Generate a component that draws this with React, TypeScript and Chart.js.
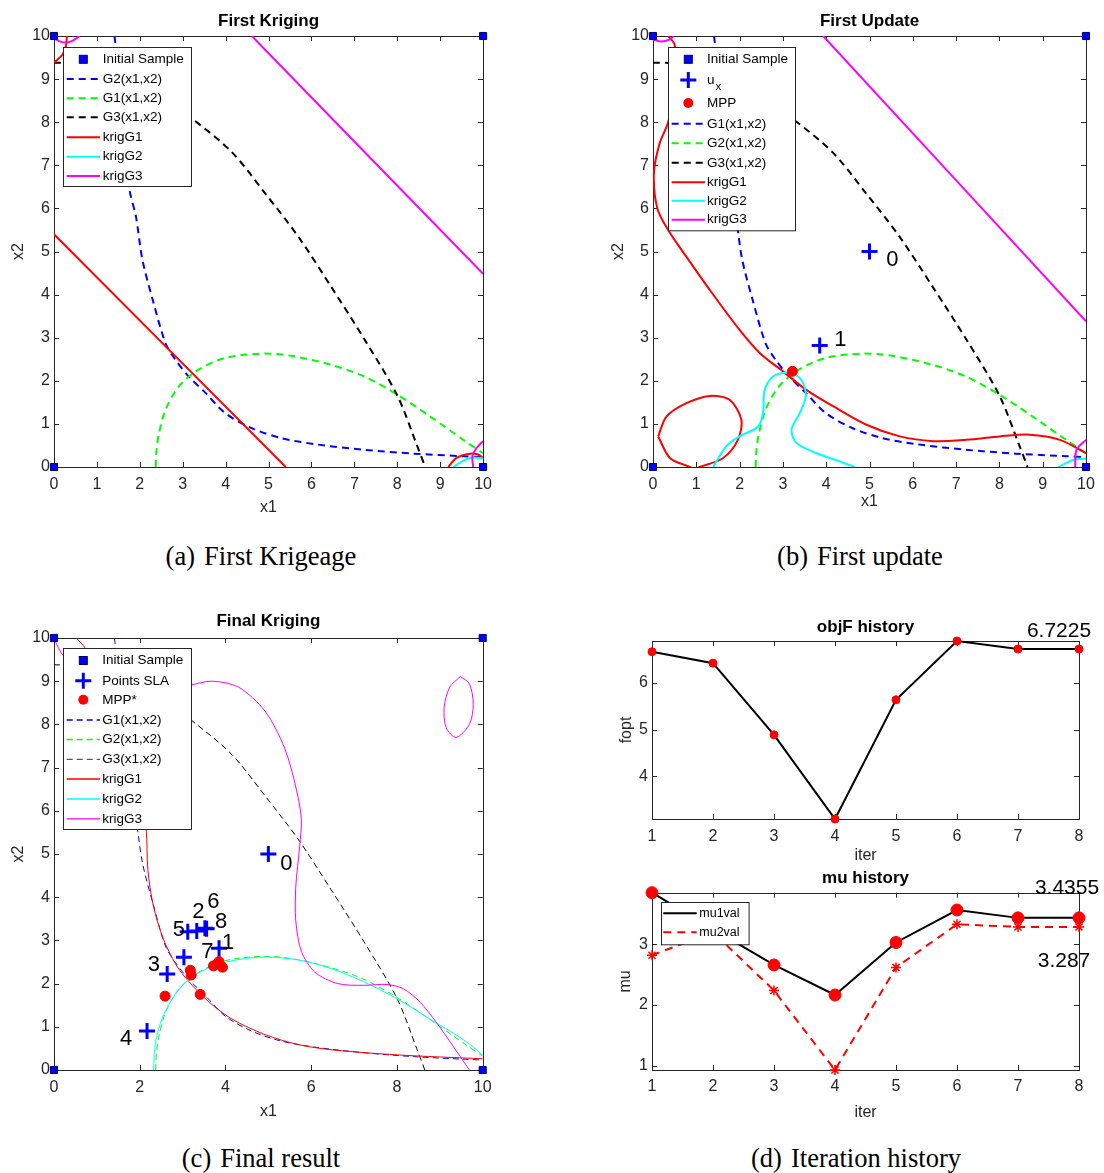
import React, { useEffect, useRef } from 'react';
import { Chart, registerables } from 'chart.js';

Chart.register(...registerables);

const FONT = '"Liberation Sans", Arial, Helvetica, sans-serif';
const SERIF = '"Liberation Serif", "Times New Roman", serif';
const AXIS = '#262626';
Chart.defaults.font.family = FONT;

const BLUE = '#0000ff';
const GREEN = '#00ff00';
const RED = '#ff0000';
const CYAN = '#00ffff';
const MAG = '#ff00ff';
const BLACK = '#000000';

// ================= DATA =================
// initial sample (corners of the design space)
const sampleX = [0, 0, 10, 10];
const sampleY = [0, 10, 0, 10];

// true limit states (same in panels a, b, c)
const limBlueX = [1.41, 1.5, 1.62, 1.76, 1.91, 2.06, 2.3, 2.6, 2.83, 3.14, 3.53, 3.99, 4.61, 5.3, 6.15, 7.23, 8.38, 9.54, 10];
const limBlueY = [10, 9.2, 7.8, 6.43, 5.81, 4.81, 3.88, 2.87, 2.49, 2.1, 1.72, 1.25, 0.9, 0.67, 0.52, 0.4, 0.31, 0.25, 0.23];
const limGreenX = [2.37, 2.39, 2.45, 2.6, 2.91, 3.37, 3.99, 4.84, 5.53, 6.46, 7.23, 8.0, 8.77, 9.54, 10];
const limGreenY = [0, 0.4, 0.79, 1.33, 1.87, 2.26, 2.53, 2.63, 2.58, 2.37, 2.1, 1.68, 1.17, 0.63, 0.32];
const limBlackX = [0, 0.5, 1.5, 2.5, 3.2, 4.15, 4.92, 5.69, 6.46, 7.23, 8.0, 8.46, 8.65];
const limBlackY = [9.38, 9.36, 9.1, 8.6, 8.1, 7.3, 6.35, 5.35, 4.18, 2.97, 1.66, 0.5, 0];

// panel (a): first kriging
const aRedLineX = [0, 5.4];
const aRedLineY = [5.4, 0];
const aRedTopX = [0, 0.2, 0.28, 0.3];
const aRedTopY = [9.38, 9.57, 9.78, 10];
const aRedCornerX = [9.19, 9.38, 9.69, 9.88, 10];
const aRedCornerY = [0, 0.21, 0.31, 0.29, 0.21];
const aCyanX = [9.31, 9.54, 9.77, 10];
const aCyanY = [0, 0.15, 0.22, 0.2];
const aMagLineX = [4.61, 10];
const aMagLineY = [10, 4.48];
const aMagTopX = [0, 0.15, 0.3, 0.45, 0.6];
const aMagTopY = [9.95, 9.87, 9.85, 9.9, 10];
const aMagCornerX = [10, 9.85, 9.75, 9.77];
const aMagCornerY = [0.6, 0.44, 0.25, 0];

// panel (b): first update
const bRedX = [0.35, 0.5, 0.55, 0.35, 0.15, 0.02, 0.1, 0.35, 0.77, 1.31, 2.0, 2.47, 3.0, 3.54, 4.16, 4.93, 5.7, 6.47, 7.24, 8.01, 8.7, 9.4, 10];
const bRedY = [10, 9.8, 9.0, 8.0, 7.5, 6.8, 6.0, 5.5, 4.88, 4.11, 3.18, 2.64, 2.22, 1.79, 1.41, 0.98, 0.71, 0.6, 0.63, 0.71, 0.75, 0.63, 0.32];
const bRedLoopX = [0.12, 0.31, 0.77, 1.31, 1.77, 2.04, 1.96, 1.62, 1.08, 0.95, 0.85, 0.39, 0.12];
const bRedLoopY = [0.71, 1.17, 1.48, 1.65, 1.56, 1.1, 0.63, 0.21, 0.0, -0.05, 0.0, 0.21, 0.71];
const bCyanX = [1.39, 1.69, 2.0, 2.43, 2.54, 2.58, 2.77, 3.16, 3.43, 3.53, 3.39, 3.2, 3.31, 3.78, 4.31, 4.66];
const bCyanY = [0, 0.48, 0.71, 0.94, 1.25, 1.79, 2.1, 2.19, 2.02, 1.64, 1.25, 0.87, 0.56, 0.32, 0.13, 0];
const bCyanCornerX = [9.36, 9.71, 10];
const bCyanCornerY = [0, 0.17, 0.19];
const bMagLineX = [3.93, 10];
const bMagLineY = [10, 3.38];
const bMagTopX = [0, 0.19, 0.39, 0.48];
const bMagTopY = [9.92, 9.87, 9.92, 10];
const bMagCornerX = [10, 9.78, 9.75];
const bMagCornerY = [0.63, 0.4, 0];
const uxX = [5.0, 3.85];
const uxY = [5.0, 2.82];
const uxLabels = ['0', '1'];
const uxLabelX = [5.53, 4.33];
const uxLabelY = [4.81, 2.95];
const mppBX = [3.22];
const mppBY = [2.22];

// panel (c): final kriging
const cRedX = [0.52, 0.73, 1.2, 1.7, 2.0, 2.15, 2.19, 2.31, 2.54, 2.85, 3.15, 3.62, 4.15, 4.92, 5.69, 6.46, 8.0, 10];
const cRedY = [10, 9.76, 8.8, 7.5, 6.5, 5.57, 4.63, 3.84, 3.06, 2.43, 2.04, 1.57, 1.18, 0.82, 0.59, 0.47, 0.35, 0.26];
const cCyanX = [2.32, 2.38, 2.62, 3.08, 3.77, 4.77, 5.69, 6.46, 7.23, 8.0, 8.77, 9.54, 10];
const cCyanY = [0, 0.71, 1.41, 2.04, 2.43, 2.61, 2.55, 2.35, 2.04, 1.65, 1.18, 0.71, 0.35];
const cMagX = [0, 0.23, 1.0, 2.0, 3.0, 3.15, 3.69, 4.31, 4.92, 5.38, 5.65, 5.77, 5.73, 5.64, 5.64, 5.77, 6.08, 6.62, 7.23, 7.77, 8.15, 8.54, 8.92, 9.31, 9.69];
const cMagY = [9.98, 9.57, 8.9, 8.8, 8.85, 8.9, 9.0, 8.86, 8.31, 7.45, 6.51, 5.8, 5.18, 4.24, 3.45, 2.75, 2.27, 2.0, 1.96, 1.98, 1.88, 1.57, 1.1, 0.55, 0];
const cMagLoopX = [9.48, 9.69, 9.78, 9.69, 9.38, 9.15, 9.1, 9.23, 9.48];
const cMagLoopY = [9.11, 8.94, 8.47, 8.0, 7.7, 7.92, 8.39, 8.86, 9.11];
const slaX = [5.0, 3.85, 3.33, 2.64, 2.17, 3.12, 3.52, 3.03, 3.56];
const slaY = [5.0, 2.82, 3.22, 2.22, 0.9, 3.2, 3.28, 2.61, 3.27];
const slaLabels = ['0', '1', '2', '3', '4', '5', '6', '7', '8'];
const slaLabelX = [5.42, 4.06, 3.37, 2.33, 1.68, 2.91, 3.72, 3.58, 3.9];
const slaLabelY = [4.78, 2.93, 3.66, 2.43, 0.72, 3.24, 3.9, 2.74, 3.43];
const mppCX = [2.59, 3.41, 3.18, 3.2, 3.72, 3.85, 3.93, 3.8];
const mppCY = [1.71, 1.75, 2.31, 2.2, 2.41, 2.51, 2.38, 2.45];

// panel (d): iteration history
const iters = [1, 2, 3, 4, 5, 6, 7, 8];
const objF = [6.664, 6.42, 4.886, 3.085, 5.636, 6.894, 6.7225, 6.7225];
const mu1val = [3.85, 3.25, 2.66, 2.165, 3.03, 3.565, 3.4355, 3.4355];
const mu2val = [2.82, 3.2, 2.24, 0.93, 2.62, 3.33, 3.287, 3.287];

// ================= HELPERS =================
type Pt = { x: number; y: number };
const xy = (xs: number[], ys: number[]): Pt[] => xs.map((x, i) => ({ x, y: ys[i] }));

function curve(xs: number[], ys: number[], color: string, width: number, dash: number[] = [], tension = 0.3) {
  return {
    data: xy(xs, ys), showLine: true, borderColor: color, backgroundColor: color,
    borderWidth: width, borderDash: dash, pointRadius: 0, pointHoverRadius: 0, pointHitRadius: 0,
    tension, fill: false,
  };
}
function marks(xs: number[], ys: number[], style: string, radius: number, border: string, fill: string, bw: number) {
  return {
    data: xy(xs, ys), showLine: false, pointStyle: style, pointRadius: radius, pointHoverRadius: radius,
    pointBorderColor: border, pointBackgroundColor: fill, pointBorderWidth: bw,
    borderColor: border, backgroundColor: fill, clip: false,
  };
}

function drawMarker(ctx: CanvasRenderingContext2D, kind: string, x: number, y: number, s: number, color: string) {
  ctx.save();
  ctx.setLineDash([]);
  if (kind === 'rect') {
    ctx.fillStyle = color;
    ctx.fillRect(x - s / 2, y - s / 2, s, s);
    ctx.strokeStyle = '#000060';
    ctx.lineWidth = 1;
    ctx.strokeRect(x - s / 2, y - s / 2, s, s);
  } else if (kind === 'cross') {
    ctx.strokeStyle = color;
    ctx.lineWidth = 3;
    ctx.beginPath();
    ctx.moveTo(x - s / 2, y); ctx.lineTo(x + s / 2, y);
    ctx.moveTo(x, y - s / 2); ctx.lineTo(x, y + s / 2);
    ctx.stroke();
  } else {
    ctx.fillStyle = color;
    ctx.beginPath();
    ctx.arc(x, y, s / 2, 0, Math.PI * 2);
    ctx.fill();
  }
  ctx.restore();
}

function axesBox(len = 5) {
  return {
    id: 'axesBox',
    beforeDatasetsDraw(chart: any) {
      const { ctx, chartArea: a, scales } = chart;
      const sx = scales.x, sy = scales.y;
      ctx.save();
      ctx.strokeStyle = AXIS;
      ctx.lineWidth = 1;
      ctx.setLineDash([]);
      ctx.beginPath();
      sx.ticks.forEach((t: any) => {
        const p = Math.round(sx.getPixelForValue(t.value)) + 0.5;
        ctx.moveTo(p, a.bottom); ctx.lineTo(p, a.bottom - len);
        ctx.moveTo(p, a.top); ctx.lineTo(p, a.top + len);
      });
      sy.ticks.forEach((t: any) => {
        const p = Math.round(sy.getPixelForValue(t.value)) + 0.5;
        ctx.moveTo(a.left, p); ctx.lineTo(a.left + len, p);
        ctx.moveTo(a.right, p); ctx.lineTo(a.right - len, p);
      });
      ctx.stroke();
      ctx.strokeRect(Math.round(a.left) + 0.5, Math.round(a.top) + 0.5, Math.round(a.right - a.left), Math.round(a.bottom - a.top));
      ctx.restore();
    },
  };
}

type LegItem = { text: string; sub?: string; color: string; dash?: number[]; lw?: number; marker?: string; ms?: number };
type LegCfg = { x: number; y: number; w: number; h: number; rows: number[]; lx0: number; lx1: number; mx: number; tx: number; fs: number; items: LegItem[] };

function boxLegend(o: LegCfg) {
  return {
    id: 'boxLegend',
    afterDraw(chart: any) {
      const { ctx, chartArea: a } = chart;
      const bx = Math.round(a.left + o.x), by = Math.round(a.top + o.y);
      ctx.save();
      ctx.setLineDash([]);
      ctx.fillStyle = '#ffffff';
      ctx.fillRect(bx, by, o.w, o.h);
      ctx.strokeStyle = AXIS;
      ctx.lineWidth = 1;
      ctx.strokeRect(bx + 0.5, by + 0.5, o.w, o.h);
      o.items.forEach((it, i) => {
        const yy = a.top + o.rows[i];
        if (it.marker) {
          drawMarker(ctx, it.marker, a.left + o.mx, yy, it.ms || 8, it.color);
        } else {
          ctx.save();
          ctx.strokeStyle = it.color;
          ctx.lineWidth = it.lw || 2;
          ctx.setLineDash(it.dash || []);
          ctx.beginPath();
          ctx.moveTo(a.left + o.lx0, yy);
          ctx.lineTo(a.left + o.lx1, yy);
          ctx.stroke();
          ctx.restore();
        }
        ctx.fillStyle = '#000';
        ctx.font = `${o.fs}px ${FONT}`;
        ctx.textAlign = 'left';
        ctx.textBaseline = 'middle';
        ctx.fillText(it.text, a.left + o.tx, yy);
        if (it.sub) {
          const w = ctx.measureText(it.text).width;
          ctx.font = `${o.fs - 2}px ${FONT}`;
          ctx.fillText(it.sub, a.left + o.tx + w + 1, yy + 7);
        }
      });
      ctx.restore();
    },
  };
}

type TextItem = { x: number; y: number; text: string; dx?: number; dy?: number };
function textLayer(items: TextItem[], size: number) {
  return {
    id: 'textLayer',
    afterDatasetsDraw(chart: any) {
      const { ctx, scales } = chart;
      ctx.save();
      ctx.font = `${size}px ${FONT}`;
      ctx.fillStyle = '#000';
      ctx.textAlign = 'center';
      ctx.textBaseline = 'middle';
      items.forEach((it) => {
        ctx.fillText(it.text, scales.x.getPixelForValue(it.x) + (it.dx || 0), scales.y.getPixelForValue(it.y) + (it.dy || 0));
      });
      ctx.restore();
    },
  };
}

interface AxCfg {
  xmin: number; xmax: number; xstep: number; ymin: number; ymax: number; ystep: number;
  yW: number; xH: number; xPad: number; xTitle: string; xTitlePad: number; yTitle: string; yTitlePad: number;
}
function axes(c: AxCfg) {
  const tickFont = { family: FONT, size: 16 };
  return {
    x: {
      type: 'linear', min: c.xmin, max: c.xmax,
      afterFit: (s: any) => { s.height = c.xH; },
      ticks: { stepSize: c.xstep, autoSkip: false, maxRotation: 0, minRotation: 0, includeBounds: false, padding: c.xPad, color: AXIS, font: tickFont },
      grid: { display: false, drawTicks: false }, border: { display: false },
      title: { display: true, text: c.xTitle, color: AXIS, font: tickFont, padding: { top: 0, bottom: c.xTitlePad } },
    },
    y: {
      type: 'linear', min: c.ymin, max: c.ymax,
      afterFit: (s: any) => { s.width = c.yW; },
      ticks: { stepSize: c.ystep, autoSkip: false, includeBounds: false, padding: 4, color: AXIS, font: tickFont },
      grid: { display: false, drawTicks: false }, border: { display: false },
      title: { display: true, text: c.yTitle, color: AXIS, font: tickFont, padding: { top: c.yTitlePad, bottom: 0 } },
    },
  };
}

function titleCfg(text: string, top: number, bottom: number) {
  return { display: true, text, color: '#000', font: { family: FONT, size: 17, weight: 'bold' }, padding: { top, bottom }, fullSize: false };
}

function config(datasets: any[], scales: any, title: any, padRight: number, plugins: any[]) {
  return {
    type: 'scatter',
    data: { datasets },
    options: {
      responsive: false, animation: false, devicePixelRatio: 1, events: [],
      layout: { padding: { left: 0, right: padRight, top: 0, bottom: 0 } },
      plugins: { legend: { display: false }, tooltip: { enabled: false }, title },
      scales,
    },
    plugins,
  } as any;
}

// ================= PANELS =================
function panelA() {
  const W = 2, D = [7, 5];
  const ds = [
    marks(sampleX, sampleY, 'rect', 5, '#000060', BLUE, 1),
    curve(aMagLineX, aMagLineY, MAG, W),
    curve(aMagTopX, aMagTopY, MAG, W),
    curve(aMagCornerX, aMagCornerY, MAG, W),
    curve(aCyanX, aCyanY, CYAN, W),
    curve(aRedLineX, aRedLineY, RED, W),
    curve(aRedTopX, aRedTopY, RED, W),
    curve(aRedCornerX, aRedCornerY, RED, W),
    curve(limBlackX, limBlackY, BLACK, W, D),
    curve(limGreenX, limGreenY, GREEN, W, D),
    curve(limBlueX, limBlueY, BLUE, W, D),
  ];
  const leg: LegCfg = {
    x: 9, y: 11, w: 128, h: 139, rows: [23.3, 43, 62.3, 81.3, 101.3, 120.7, 140],
    lx0: 12.7, lx1: 46, mx: 29.3, tx: 48.7, fs: 13.5,
    items: [
      { text: 'Initial Sample', color: BLUE, marker: 'rect', ms: 8 },
      { text: 'G2(x1,x2)', color: BLUE, dash: D },
      { text: 'G1(x1,x2)', color: GREEN, dash: D },
      { text: 'G3(x1,x2)', color: BLACK, dash: D },
      { text: 'krigG1', color: RED },
      { text: 'krigG2', color: CYAN },
      { text: 'krigG3', color: MAG },
    ],
  };
  return config(ds,
    axes({ xmin: 0, xmax: 10, xstep: 1, ymin: 0, ymax: 10, ystep: 1, yW: 54, xH: 53, xPad: 8, xTitle: 'x1', xTitlePad: 2.4, yTitle: 'x2', yTitlePad: 9.4 }),
    titleCfg('First Kriging', 10.8, 4.8), 13, [axesBox(5), boxLegend(leg)]);
}

function panelB() {
  const W = 2, D = [7, 5];
  const ds = [
    marks(sampleX, sampleY, 'rect', 5, '#000060', BLUE, 1),
    marks(uxX, uxY, 'cross', 8, BLUE, BLUE, 3),
    marks(mppBX, mppBY, 'circle', 5, RED, RED, 1),
    curve(bMagLineX, bMagLineY, MAG, W),
    curve(bMagTopX, bMagTopY, MAG, W),
    curve(bMagCornerX, bMagCornerY, MAG, W),
    curve(bCyanX, bCyanY, CYAN, W),
    curve(bCyanCornerX, bCyanCornerY, CYAN, W),
    curve(bRedX, bRedY, RED, W),
    curve(bRedLoopX, bRedLoopY, RED, W),
    curve(limBlackX, limBlackY, BLACK, W, D),
    curve(limGreenX, limGreenY, GREEN, W, D),
    curve(limBlueX, limBlueY, BLUE, W, D),
  ];
  const leg: LegCfg = {
    x: 15.3, y: 10.7, w: 127, h: 183.3, rows: [23.3, 44, 67, 87.8, 107.3, 126.8, 146.2, 164.8, 183.7],
    lx0: 18.7, lx1: 52, mx: 35.3, tx: 54, fs: 13.5,
    items: [
      { text: 'Initial Sample', color: BLUE, marker: 'rect', ms: 8 },
      { text: 'u', sub: 'x', color: BLUE, marker: 'cross', ms: 16 },
      { text: 'MPP', color: RED, marker: 'circle', ms: 10 },
      { text: 'G1(x1,x2)', color: BLUE, dash: D },
      { text: 'G2(x1,x2)', color: GREEN, dash: D },
      { text: 'G3(x1,x2)', color: BLACK, dash: D },
      { text: 'krigG1', color: RED },
      { text: 'krigG2', color: CYAN },
      { text: 'krigG3', color: MAG },
    ],
  };
  const labels: TextItem[] = uxLabels.map((t, i) => ({ text: t, x: uxLabelX[i], y: uxLabelY[i] }));
  return config(ds,
    axes({ xmin: 0, xmax: 10, xstep: 1, ymin: 0, ymax: 10, ystep: 1, yW: 53, xH: 53, xPad: 8.4, xTitle: 'x1', xTitlePad: 8.7, yTitle: 'x2', yTitlePad: 9.4 }),
    titleCfg('First Update', 10.8, 4.8), 18, [axesBox(5), textLayer(labels, 22), boxLegend(leg)]);
}

function panelC() {
  const W = 1, D = [6, 4];
  const ds = [
    marks(sampleX, sampleY, 'rect', 5, '#000060', BLUE, 1),
    marks(slaX, slaY, 'cross', 8, BLUE, BLUE, 3),
    marks(mppCX, mppCY, 'circle', 5, RED, RED, 1),
    curve(cMagX, cMagY, MAG, W),
    curve(cMagLoopX, cMagLoopY, MAG, W),
    curve(cCyanX, cCyanY, CYAN, W),
    curve(cRedX, cRedY, RED, W),
    curve(limBlackX, limBlackY, BLACK, W, D),
    curve(limGreenX, limGreenY, GREEN, W, D),
    curve(limBlueX, limBlueY, BLUE, W, D),
  ];
  const leg: LegCfg = {
    x: 9, y: 9.5, w: 128, h: 181, rows: [22.5, 42.8, 61.8, 82, 101.5, 121.3, 141, 161, 180.8],
    lx0: 12.7, lx1: 46, mx: 29.3, tx: 48.3, fs: 13.5,
    items: [
      { text: 'Initial Sample', color: BLUE, marker: 'rect', ms: 8 },
      { text: 'Points SLA', color: BLUE, marker: 'cross', ms: 16 },
      { text: 'MPP*', color: RED, marker: 'circle', ms: 10 },
      { text: 'G1(x1,x2)', color: BLUE, dash: D, lw: 1.3 },
      { text: 'G2(x1,x2)', color: GREEN, dash: D, lw: 1.3 },
      { text: 'G3(x1,x2)', color: '#555555', dash: D, lw: 1.3 },
      { text: 'krigG1', color: RED, lw: 1.3 },
      { text: 'krigG2', color: CYAN, lw: 1.3 },
      { text: 'krigG3', color: MAG, lw: 1.3 },
    ],
  };
  const labels: TextItem[] = slaLabels.map((t, i) => ({ text: t, x: slaLabelX[i], y: slaLabelY[i] }));
  return config(ds,
    axes({ xmin: 0, xmax: 10, xstep: 2, ymin: 0, ymax: 10, ystep: 1, yW: 54, xH: 55, xPad: 8.4, xTitle: 'x1', xTitlePad: 3.4, yTitle: 'x2', yTitlePad: 9.4 }),
    titleCfg('Final Kriging', 10.8, 6.8), 13, [axesBox(5), textLayer(labels, 22), boxLegend(leg)]);
}

function panelD1() {
  const ds = [{
    data: xy(iters, objF), showLine: true, borderColor: BLACK, borderWidth: 2, tension: 0,
    pointStyle: 'circle', pointRadius: 4, pointHoverRadius: 4, pointBackgroundColor: RED, pointBorderColor: RED,
    pointBorderWidth: 1, clip: false,
  }];
  const last = iters.length - 1;
  const ann: TextItem[] = [{ x: iters[last], y: objF[last], text: String(objF[last]), dx: -20, dy: -18 }];
  return config(ds,
    axes({ xmin: 1, xmax: 8, xstep: 1, ymin: Math.min(...objF), ymax: Math.max(...objF), ystep: 1, yW: 52, xH: 46, xPad: 8, xTitle: 'iter', xTitlePad: 0, yTitle: 'fopt', yTitlePad: 17 }),
    titleCfg('objF history', 16.8, 3.8), 25, [axesBox(5), textLayer(ann, 21)]);
}

function panelD2() {
  const ds = [
    {
      data: xy(iters, mu1val), showLine: true, borderColor: BLACK, borderWidth: 2, tension: 0,
      pointStyle: 'circle', pointRadius: 6, pointHoverRadius: 6, pointBackgroundColor: RED, pointBorderColor: RED,
      pointBorderWidth: 1, clip: false,
    },
    {
      data: xy(iters, mu2val), showLine: true, borderColor: RED, borderWidth: 2, borderDash: [8, 6], tension: 0,
      pointStyle: 'star', pointRadius: 5, pointHoverRadius: 5, pointBackgroundColor: RED, pointBorderColor: RED,
      pointBorderWidth: 1.5, clip: false,
    },
  ];
  const last = iters.length - 1;
  const ann: TextItem[] = [
    { x: iters[last], y: mu1val[last], text: String(mu1val[last]), dx: -12, dy: -30 },
    { x: iters[last], y: mu2val[last], text: String(mu2val[last]), dx: -15, dy: 34 },
  ];
  const leg: LegCfg = {
    x: 8.7, y: 9, w: 87.6, h: 42.3, rows: [20.6, 39.6], lx0: 11.3, lx1: 44.7, mx: 28, tx: 47.3, fs: 12.5,
    items: [
      { text: 'mu1val', color: BLACK },
      { text: 'mu2val', color: RED, dash: [8, 6] },
    ],
  };
  return config(ds,
    axes({ xmin: 1, xmax: 8, xstep: 1, ymin: Math.min(...mu2val), ymax: Math.max(...mu1val), ystep: 1, yW: 52, xH: 55, xPad: 7, xTitle: 'iter', xTitlePad: 2.7, yTitle: 'mu', yTitlePad: 16 }),
    titleCfg('mu history', 2.8, 4.5), 25, [axesBox(5), textLayer(ann, 21), boxLegend(leg)]);
}

// ================= COMPONENTS =================
function ChartCanvas(props: { left: number; top: number; width: number; height: number; make: () => any }) {
  const ref = useRef<HTMLCanvasElement>(null);
  useEffect(() => {
    const chart = new Chart(ref.current as HTMLCanvasElement, props.make());
    return () => chart.destroy();
  }, []);
  return (
    <canvas
      ref={ref}
      width={props.width}
      height={props.height}
      style={{ position: 'absolute', left: props.left, top: props.top, width: props.width, height: props.height }}
    />
  );
}

function Caption(props: { cx: number; cy: number; tag: string; text: string }) {
  return (
    <div
      style={{
        position: 'absolute', left: props.cx - 200, top: props.cy - 15, width: 400, height: 30,
        lineHeight: '30px', textAlign: 'center', fontFamily: SERIF, fontSize: 26.5, color: '#000', whiteSpace: 'nowrap',
      }}
    >
      <span>{props.tag}</span>
      <span style={{ marginLeft: 9 }}>{props.text}</span>
    </div>
  );
}

export default function App() {
  return (
    <div style={{ position: 'absolute', left: 0, top: 0, width: 1104, height: 1173, background: '#fff', overflow: 'hidden' }}>
      <ChartCanvas left={0} top={0} width={500} height={520} make={panelA} />
      <ChartCanvas left={600} top={0} width={504} height={520} make={panelB} />
      <ChartCanvas left={0} top={600} width={500} height={525} make={panelC} />
      <ChartCanvas left={600} top={600} width={504} height={265} make={panelD1} />
      <ChartCanvas left={600} top={865} width={504} height={260} make={panelD2} />
      <Caption cx={261} cy={556} tag="(a)" text="First Krigeage" />
      <Caption cx={860} cy={556} tag="(b)" text="First update" />
      <Caption cx={261} cy={1158} tag="(c)" text="Final result" />
      <Caption cx={856} cy={1158} tag="(d)" text="Iteration history" />
    </div>
  );
}
